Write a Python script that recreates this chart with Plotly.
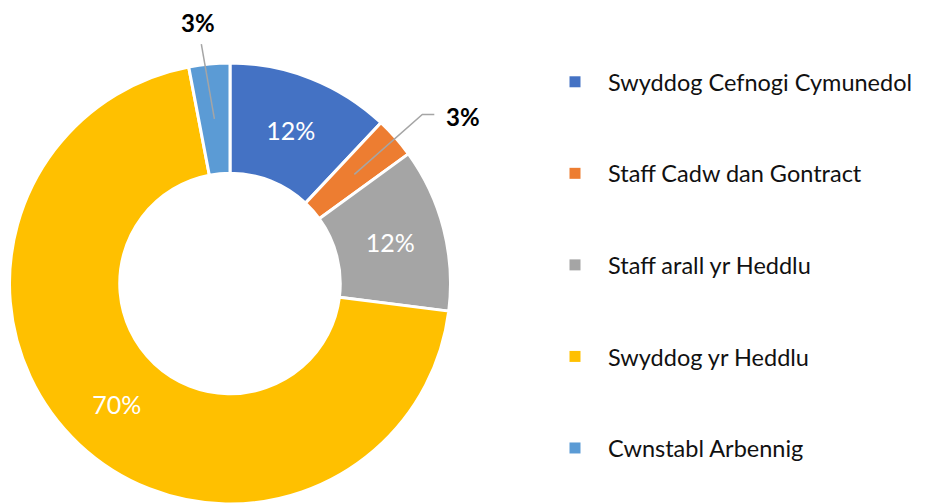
import math
import plotly.graph_objects as go

categories = ["Swyddog Cefnogi Cymunedol", "Staff Cadw dan Gontract", "Staff arall yr Heddlu",
              "Swyddog yr Heddlu", "Cwnstabl Arbennig"]
values = [12, 3, 12, 70, 3]
colors = ["#4472C4", "#ED7D31", "#A5A5A5", "#FFC000", "#5B9BD5"]
text_positions = ["inside", "none", "inside", "inside", "none"]

# page has an 8px body margin; figure sized to fit the 928x504 window
OFF = 8
W, H = 928 - OFF, 504 - OFF
FONT = "Lato, Calibri, Arial, sans-serif"

# donut geometry (figure pixels)
cx, cy, R = 230 - OFF, 284 - OFF, 221
hole = 0.5

fig = go.Figure()
fig.add_trace(go.Pie(
    labels=categories, values=values, sort=False, direction="clockwise", rotation=0,
    hole=hole,
    marker=dict(colors=colors, line=dict(color="white", width=3)),
    textposition=text_positions, texttemplate="%{percent:.0%}",
    insidetextorientation="horizontal",
    insidetextfont=dict(color="white", size=25, family=FONT),
    showlegend=False, hoverinfo="label+percent",
    domain=dict(x=[(cx - R) / W, (cx + R) / W],
                y=[max(0, (H - cy - R) / H), min(1, (H - cy + R) / H)]),
))

# legend entries via dummy traces so the spacing can be widened
for i, (cat, col) in enumerate(zip(categories, colors)):
    fig.add_trace(go.Scatter(x=[None], y=[None], mode="markers", name=cat,
                             legendgroup=f"g{i}",
                             marker=dict(symbol="square", size=11, color=col)))

def px_to_paper(px, py):
    return px / W, 1 - py / H

total = sum(values)
shapes, annotations = [], []
cum = 0
for i, v in enumerate(values):
    mid = (cum + v / 2) / total * 2 * math.pi
    cum += v
    if text_positions[i] != "none":
        continue
    s, c = math.sin(mid), math.cos(mid)
    r0 = 0.75 * R
    x0, y0 = cx + r0 * s, cy - r0 * c
    label = f"{round(v / total * 100)}%"
    if s > 0.3:
        r1 = 1.16 * R
        x1, y1 = cx + r1 * s, cy - r1 * c
        x2 = x1 + 12
        pts = [(x0, y0), (x1, y1), (x2, y1)]
        path = "M " + " L ".join(f"{px_to_paper(a, b)[0]},{px_to_paper(a, b)[1]}" for a, b in pts)
        shapes.append(dict(type="path", xref="paper", yref="paper", path=path,
                           line=dict(color="#A5A5A5", width=1.5)))
        ax, ay = px_to_paper(x2 + 10, y1 + 2)
        annotations.append(dict(x=ax, y=ay, xref="paper", yref="paper", text=f"<b>{label}</b>",
                                showarrow=False, xanchor="left", yanchor="middle",
                                font=dict(size=24, color="black", family=FONT)))
    else:
        r1 = 1.09 * R
        x1, y1 = cx + r1 * s - 6, cy - r1 * c
        p0, p1 = px_to_paper(x0, y0), px_to_paper(x1, y1)
        shapes.append(dict(type="line", xref="paper", yref="paper", x0=p0[0], y0=p0[1],
                           x1=p1[0], y1=p1[1], line=dict(color="#A5A5A5", width=1.5)))
        ax, ay = px_to_paper(x1 - 3, y1 - 5)
        annotations.append(dict(x=ax, y=ay, xref="paper", yref="paper", text=f"<b>{label}</b>",
                                showarrow=False, xanchor="center", yanchor="bottom",
                                font=dict(size=24, color="black", family=FONT)))

fig.update_layout(
    width=W, height=H, margin=dict(l=0, r=0, t=0, b=0),
    paper_bgcolor="white", plot_bgcolor="white",
    xaxis=dict(visible=False, domain=[0.99, 1.0]), yaxis=dict(visible=False),
    legend=dict(x=(542 - OFF) / W, y=1 - (60 - OFF) / H, xanchor="left", yanchor="top",
                font=dict(size=23.5, color="#111111", family=FONT),
                itemwidth=56,
                tracegroupgap=58, traceorder="grouped", itemclick=False),
    shapes=shapes, annotations=annotations,
    font=dict(family=FONT),
)

fig.write_html("out.html")
